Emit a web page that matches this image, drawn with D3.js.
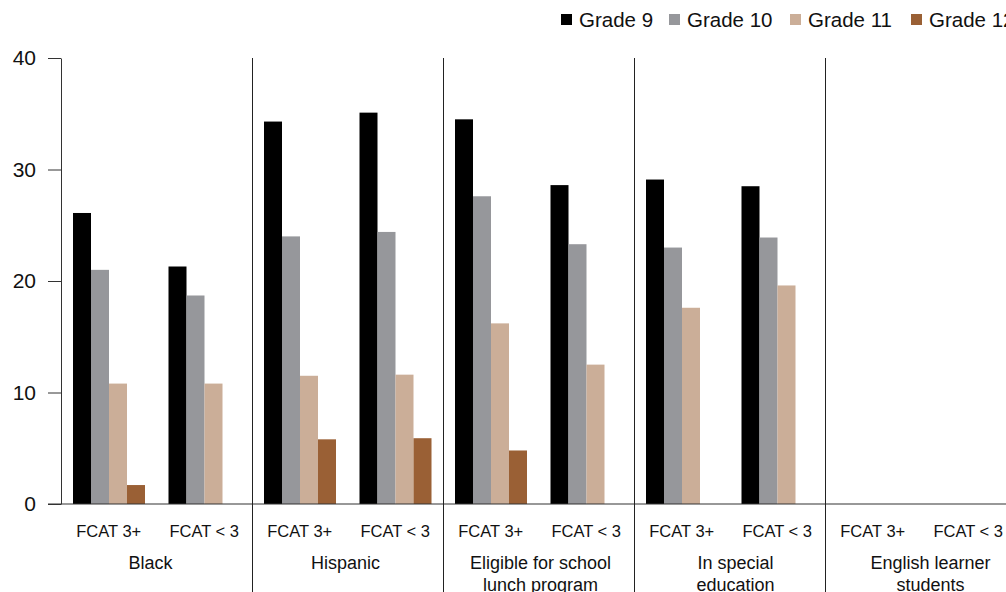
<!DOCTYPE html>
<html><head><meta charset="utf-8">
<script src="https://cdn.jsdelivr.net/npm/d3@7"></script>
<style>body{margin:0;background:#fff;overflow:hidden}svg{display:block;font-family:"Liberation Sans",Arial,sans-serif}</style>
</head><body><svg id="c" width="1006" height="592"></svg>
<script>
const groups = ["Black","Hispanic","Eligible for school|lunch program","In special|education","English learner|students"];
const subs = ["FCAT 3+","FCAT < 3"];
const series = ["Grade 9","Grade 10","Grade 11","Grade 12"];
const colors = ["#000000","#96979b","#cbae98","#9a6035"];
// values per group, per subgroup, per series (null = no bar)
const grade9  = [[26.1,21.3],[34.3,35.1],[34.5,28.6],[29.1,28.5],[null,null]];
const grade10 = [[21.0,18.7],[24.0,24.4],[27.6,23.3],[23.0,23.9],[null,null]];
const grade11 = [[10.8,10.8],[11.5,11.6],[16.2,12.5],[17.6,19.6],[null,null]];
const grade12 = [[1.7,null],[5.8,5.9],[4.8,null],[null,null],[null,null]];
const yTicks = [0,10,20,30,40];

const allSeries = [grade9,grade10,grade11,grade12];
const svg = d3.select("#c");
const x0 = d3.scaleBand().domain(groups).range([61,1016]);
const xL = d3.scaleBand().domain(groups).range([53,1028]);
const x1 = d3.scaleBand().domain(subs).range([0,x0.bandwidth()]);
const x2 = d3.scaleBand().domain(series).range([12,12+72]);
const y = d3.scaleLinear().domain([0,40]).range([504,58]);

// bars
groups.forEach((g,gi)=>{
  subs.forEach((s,si)=>{
    series.forEach((se,k)=>{
      const v = allSeries[k][gi][si];
      if(v==null) return;
      svg.append("rect")
        .attr("x", x0(g)+x1(s)+x2(se))
        .attr("y", y(v))
        .attr("width", x2.bandwidth())
        .attr("height", y(0)-y(v))
        .attr("fill", colors[k]);
    });
  });
});

// y axis
const ya = svg.append("g").attr("transform","translate(61,0)")
  .call(d3.axisLeft(y).tickValues(yTicks).tickSize(13).tickPadding(12).tickSizeOuter(0));
ya.select(".domain").attr("stroke","#333");
ya.selectAll(".tick line").attr("stroke","#333");
ya.selectAll("text").attr("font-size",21).attr("fill","#111").attr("font-family","Liberation Sans, Arial, sans-serif");

// baseline
svg.append("line").attr("x1",48).attr("x2",1006).attr("y1",y(0)).attr("y2",y(0)).attr("stroke","#333").attr("stroke-width",1.2);

// separators
groups.slice(1).forEach(g=>{
  svg.append("line").attr("x1",Math.round(x0(g))+0.5).attr("x2",Math.round(x0(g))+0.5)
    .attr("y1",58).attr("y2",592).attr("stroke","#222").attr("stroke-width",1);
});

// sub labels
groups.forEach(g=>{
  subs.forEach(s=>{
    svg.append("text").attr("x",x0(g)+x1(s)+x1.bandwidth()/2).attr("y",537)
      .attr("text-anchor","middle").attr("font-size",16.5).attr("fill","#111").text(s);
  });
  const lines = g.split("|");
  lines.forEach((l,li)=>{
    svg.append("text").attr("x",xL(g)+xL.bandwidth()/2).attr("y",569+li*21.5)
      .attr("text-anchor","middle").attr("font-size",18).attr("fill","#111").text(l);
  });
});

// legend
const legX = [561,669,790,911];
series.forEach((s,k)=>{
  svg.append("rect").attr("x",legX[k]).attr("y",14).attr("width",11).attr("height",11).attr("fill",colors[k]);
  svg.append("text").attr("x",legX[k]+18).attr("y",27).attr("font-size",20.5).attr("fill","#111").text(s);
});
</script></body></html>
